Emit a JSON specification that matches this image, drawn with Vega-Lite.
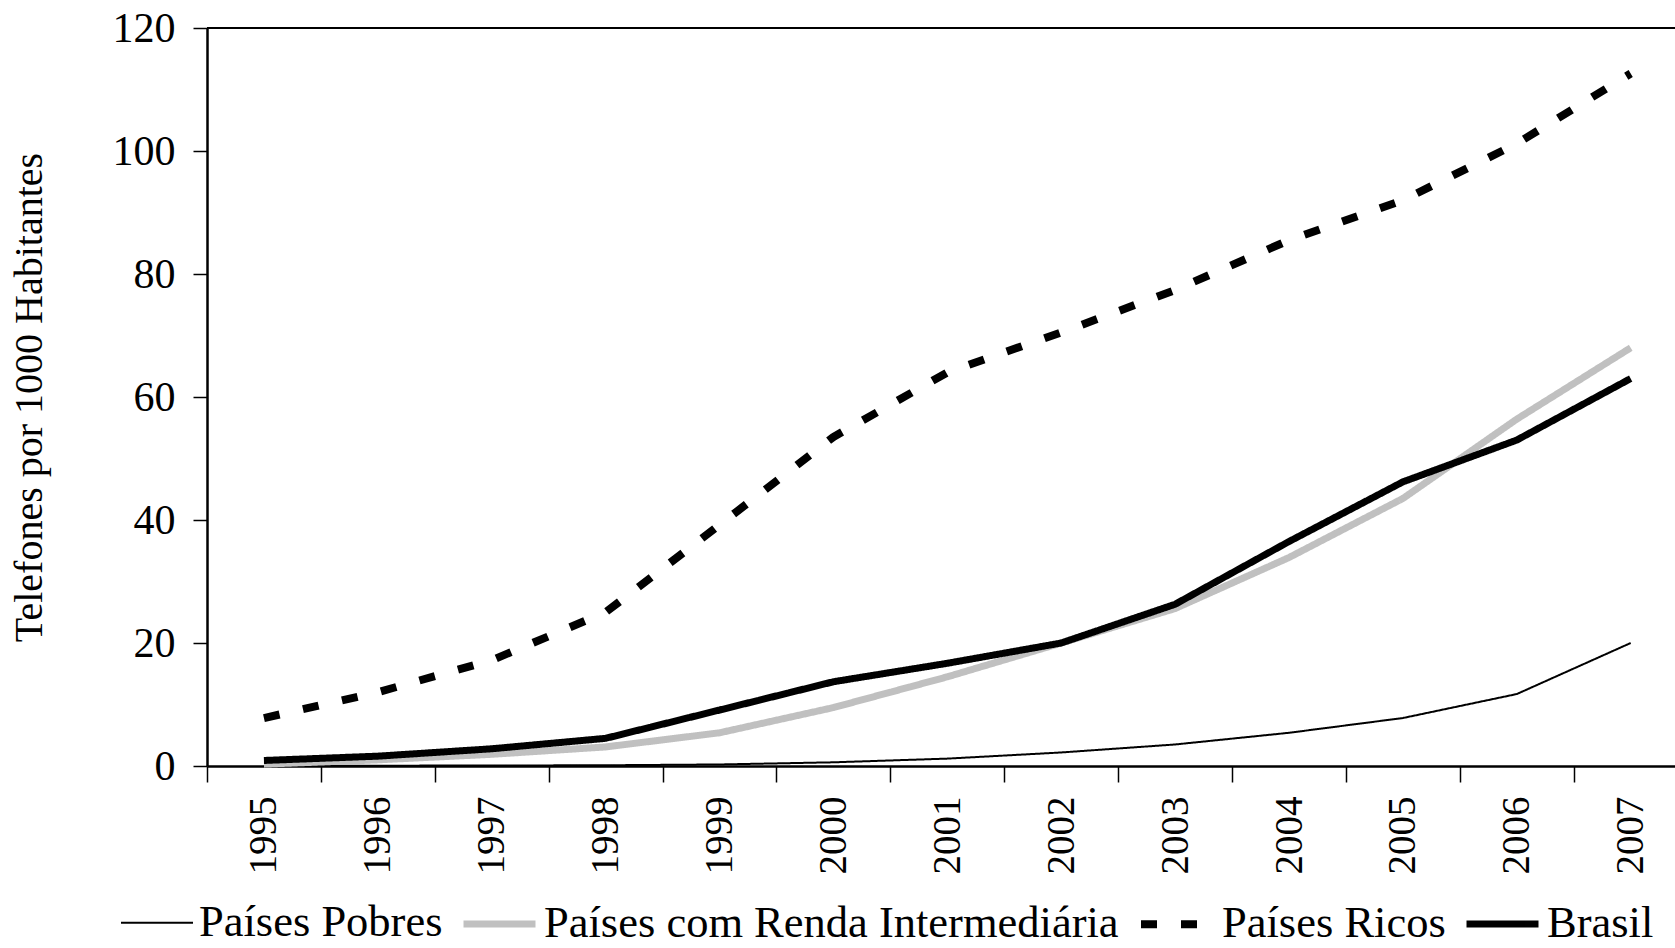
{
  "$schema": "https://vega.github.io/schema/vega-lite/v6.json",
  "autosize": "none",
  "width": 1468,
  "height": 738,
  "padding": {"left": 207, "top": 28, "right": 0, "bottom": 182},
  "background": "white",
  "config": {
    "font": "Liberation Serif",
    "view": {"stroke": null},
    "axis": {"grid": false, "domainColor": "black", "tickColor": "black", "labelColor": "black", "titleColor": "black", "labelFont": "Liberation Serif", "titleFont": "Liberation Serif"}
  },
  "data": {"values": [
    {"ano": 1995, "serie": "Países Pobres", "valor": 0.05},
    {"ano": 1996, "serie": "Países Pobres", "valor": 0.05},
    {"ano": 1997, "serie": "Países Pobres", "valor": 0.08},
    {"ano": 1998, "serie": "Países Pobres", "valor": 0.12},
    {"ano": 1999, "serie": "Países Pobres", "valor": 0.25},
    {"ano": 2000, "serie": "Países Pobres", "valor": 0.6},
    {"ano": 2001, "serie": "Países Pobres", "valor": 1.2},
    {"ano": 2002, "serie": "Países Pobres", "valor": 2.2},
    {"ano": 2003, "serie": "Países Pobres", "valor": 3.5},
    {"ano": 2004, "serie": "Países Pobres", "valor": 5.4},
    {"ano": 2005, "serie": "Países Pobres", "valor": 7.8},
    {"ano": 2006, "serie": "Países Pobres", "valor": 11.7},
    {"ano": 2007, "serie": "Países Pobres", "valor": 20.0},
    {"ano": 1995, "serie": "Países com Renda Intermediária", "valor": 0.3},
    {"ano": 1996, "serie": "Países com Renda Intermediária", "valor": 1.0},
    {"ano": 1997, "serie": "Países com Renda Intermediária", "valor": 1.9},
    {"ano": 1998, "serie": "Países com Renda Intermediária", "valor": 3.1},
    {"ano": 1999, "serie": "Países com Renda Intermediária", "valor": 5.4},
    {"ano": 2000, "serie": "Países com Renda Intermediária", "valor": 9.5},
    {"ano": 2001, "serie": "Países com Renda Intermediária", "valor": 14.5},
    {"ano": 2002, "serie": "Países com Renda Intermediária", "valor": 20.0},
    {"ano": 2003, "serie": "Países com Renda Intermediária", "valor": 25.6},
    {"ano": 2004, "serie": "Países com Renda Intermediária", "valor": 33.9},
    {"ano": 2005, "serie": "Países com Renda Intermediária", "valor": 43.5},
    {"ano": 2006, "serie": "Países com Renda Intermediária", "valor": 56.4},
    {"ano": 2007, "serie": "Países com Renda Intermediária", "valor": 68.0},
    {"ano": 1995, "serie": "Países Ricos", "valor": 7.8},
    {"ano": 1996, "serie": "Países Ricos", "valor": 12.0},
    {"ano": 1997, "serie": "Países Ricos", "valor": 17.2},
    {"ano": 1998, "serie": "Países Ricos", "valor": 25.0},
    {"ano": 1999, "serie": "Países Ricos", "valor": 39.2},
    {"ano": 2000, "serie": "Países Ricos", "valor": 53.5},
    {"ano": 2001, "serie": "Países Ricos", "valor": 64.0},
    {"ano": 2002, "serie": "Países Ricos", "valor": 70.5},
    {"ano": 2003, "serie": "Países Ricos", "valor": 77.4},
    {"ano": 2004, "serie": "Países Ricos", "valor": 85.5},
    {"ano": 2005, "serie": "Países Ricos", "valor": 92.0},
    {"ano": 2006, "serie": "Países Ricos", "valor": 101.2},
    {"ano": 2007, "serie": "Países Ricos", "valor": 112.6},
    {"ano": 1995, "serie": "Brasil", "valor": 0.9},
    {"ano": 1996, "serie": "Brasil", "valor": 1.6},
    {"ano": 1997, "serie": "Brasil", "valor": 2.8},
    {"ano": 1998, "serie": "Brasil", "valor": 4.5},
    {"ano": 1999, "serie": "Brasil", "valor": 9.1},
    {"ano": 2000, "serie": "Brasil", "valor": 13.7},
    {"ano": 2001, "serie": "Brasil", "valor": 16.7},
    {"ano": 2002, "serie": "Brasil", "valor": 20.0},
    {"ano": 2003, "serie": "Brasil", "valor": 26.3},
    {"ano": 2004, "serie": "Brasil", "valor": 36.5},
    {"ano": 2005, "serie": "Brasil", "valor": 46.2},
    {"ano": 2006, "serie": "Brasil", "valor": 53.0},
    {"ano": 2007, "serie": "Brasil", "valor": 63.0}
  ]},
  "layer": [
    {
      "mark": {"type": "rule", "color": "black", "strokeWidth": 2},
      "encoding": {"y": {"datum": 120, "type": "quantitative"}}
    },
    {
      "mark": {"type": "line", "strokeJoin": "round"},
      "encoding": {
        "x": {
          "field": "ano", "type": "quantitative",
          "scale": {"domain": [1994.5, 2007.389], "nice": false, "zero": false},
          "axis": {
            "title": null,
            "values": [1995, 1996, 1997, 1998, 1999, 2000, 2001, 2002, 2003, 2004, 2005, 2006, 2007],
            "format": "d",
            "labelAngle": -90,
            "labelFontSize": 39,
            "tickSize": 16,
            "tickWidth": 1.5,
            "tickOffset": -57,
            "labelOffset": 57,
            "labelPadding": 14,
            "domainWidth": 2.5,
            "labelFlush": false,
            "labelOverlap": false,
            "labelBound": false
          }
        },
        "y": {
          "field": "valor", "type": "quantitative",
          "scale": {"domain": [0, 120], "nice": false},
          "axis": {
            "title": "Telefones por 1000 Habitantes",
            "titleFontSize": 40,
            "titleFontWeight": "normal",
            "titlePadding": 63,
            "values": [0, 20, 40, 60, 80, 100, 120],
            "labelFontSize": 42,
            "tickSize": 14,
            "tickWidth": 1.5,
            "labelPadding": 18,
            "domainWidth": 2.5,
            "labelFlush": false,
            "labelOverlap": false
          }
        },
        "color": {
          "field": "serie", "type": "nominal",
          "scale": {"domain": ["Países Pobres", "Países com Renda Intermediária", "Países Ricos", "Brasil"], "range": ["#000000", "#c0c0c0", "#000000", "#000000"]},
          "legend": {
            "title": null,
            "orient": "none",
            "direction": "horizontal",
            "legendX": -87,
            "legendY": 856,
            "symbolType": "stroke",
            "symbolSize": 5184,
            "labelFontSize": 44.5,
            "labelFont": "Liberation Serif",
            "labelColor": "black",
            "labelOffset": 5,
            "columnPadding": 6,
            "labelLimit": 0
          }
        },
        "strokeDash": {
          "field": "serie", "type": "nominal",
          "scale": {"domain": ["Países Pobres", "Países com Renda Intermediária", "Países Ricos", "Brasil"], "range": [[1, 0], [1, 0], [16, 24], [1, 0]]},
          "legend": null
        },
        "strokeWidth": {
          "field": "serie", "type": "nominal",
          "scale": {"type": "ordinal", "domain": ["Países Pobres", "Países com Renda Intermediária", "Países Ricos", "Brasil"], "range": [2, 7, 8, 7]},
          "legend": null
        }
      }
    }
  ]
}
